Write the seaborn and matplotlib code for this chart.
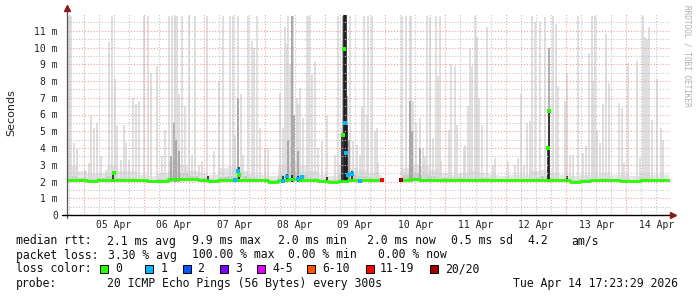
import numpy as np
import pandas as pd
import matplotlib
matplotlib.use("Agg")
import matplotlib.pyplot as plt
from matplotlib.patches import Rectangle
import seaborn as sns

# ---------------- data (hours after 2026-04-04 17:23:29) ----------------
med_hours = [0, 4, 8, 12, 16, 20, 24, 28, 32, 36, 40, 44, 48, 52, 56, 60,
             64, 68, 72, 76, 80, 84, 88, 92, 96, 100, 104, 108, 112, 116, 120, 124, 125.5,
             132.8, 136, 140, 144, 148, 152, 156, 160, 164, 168, 172, 176, 180, 184, 188,
             192, 196, 200, 204, 208, 212, 216, 220, 224, 228, 232, 236, 239.5]
med_ms = [2.08, 2.08, 2.02, 2.06, 2.10, 2.08, 2.08, 2.06, 2.02, 2.03, 2.15, 2.15, 2.12, 2.08, 2.05, 2.08,
          2.10, 2.08, 2.08, 2.06, 2.00, 2.10, 2.12, 2.10, 2.08, 2.03, 1.99, 2.05, 2.08, 2.08, 2.08, 2.08, 2.08,
          2.10, 2.12, 2.08, 2.08, 2.07, 2.07, 2.06, 2.08, 2.07, 2.07, 2.07, 2.07, 2.08, 2.08, 2.10,
          2.09, 2.07, 2.00, 2.05, 2.06, 2.07, 2.07, 2.03, 2.02, 2.06, 2.07, 2.07, 2.07]
haze_ms = [2.9, 2.6, 2.5, 2.5, 2.9, 2.6, 2.6, 2.4, 2.3, 2.5, 3.2, 3.0, 2.6, 2.5, 2.4, 2.8,
           2.9, 2.6, 2.4, 2.4, 2.3, 2.9, 3.2, 2.9, 2.6, 2.4, 2.3, 3.0, 2.8, 2.7, 2.5, 2.4, 2.4,
           2.8, 3.0, 2.9, 2.7, 2.5, 2.4, 2.5, 2.6, 2.5, 2.4, 2.3, 2.4, 2.4, 2.6, 2.7,
           2.5, 2.4, 2.3, 2.4, 2.4, 2.5, 2.4, 2.4, 2.3, 2.5, 2.4, 2.4, 2.4]
core_ms = [2.3, 2.2, 2.15, 2.2, 2.3, 2.2, 2.2, 2.15, 2.1, 2.15, 2.6, 2.5, 2.3, 2.2, 2.15, 2.25,
           2.3, 2.3, 2.2, 2.15, 2.1, 2.4, 2.6, 2.4, 2.2, 2.15, 2.1, 2.4, 2.4, 2.3, 2.2, 2.2, 2.2,
           2.4, 2.5, 2.4, 2.3, 2.2, 2.2, 2.2, 2.2, 2.2, 2.15, 2.15, 2.15, 2.15, 2.2, 2.3,
           2.2, 2.15, 2.1, 2.15, 2.15, 2.2, 2.15, 2.15, 2.1, 2.2, 2.15, 2.15, 2.15]
gap_start = 125.5
gap_end = 132.8

light_hours = [0.0, 0.9, 1.6, 2.7, 4.0, 7.0, 8.6, 9.7, 10.9, 11.9, 13.7, 15.5, 16.8, 17.9, 19.2, 19.9,
               21.6, 22.6, 23.6, 24.6, 26.1, 27.5, 28.8, 30.5, 32.2, 33.6, 35.8, 37.8, 39.1, 40.5,
               41.8, 42.9, 43.8, 44.4, 45.8, 47.1, 48.4, 49.8, 50.8, 52.4, 53.7, 55.7, 58.4, 60.4,
               62.0, 64.9, 66.2, 66.9, 68.2, 69.1, 70.2, 72.2, 73.5, 74.4, 75.5, 76.8, 78.8, 80.1,
               84.8, 86.1, 86.8, 87.4, 88.1, 88.8, 89.4, 90.1, 91.4, 92.1, 92.7, 94.1, 95.6, 96.4,
               97.4, 98.7, 100.0, 101.4, 103.6, 106.7, 108.0, 109.3, 112.6, 113.9, 115.3, 116.6,
               117.3, 118.2, 119.3, 119.9, 121.3, 122.6, 123.3, 123.9,
               133.3, 135.0, 136.4, 137.0, 137.7, 139.0, 140.4, 141.7, 142.4, 143.4, 144.6, 145.7,
               147.0, 147.7, 148.3, 149.0, 151.9, 153.0, 154.3, 155.3, 156.3, 158.0, 158.5, 159.6,
               160.3, 161.3, 162.5, 163.2, 163.9, 165.2, 167.2, 169.5, 170.2, 175.5, 178.2, 179.5,
               180.6, 181.9, 183.2, 184.2, 185.1, 186.3, 188.3, 190.2, 193.6, 194.6, 195.5, 198.2,
               198.9, 200.2, 201.5, 203.5, 205.5, 206.6, 207.9, 208.8, 209.5, 210.1, 210.8, 212.1,
               213.2, 214.5, 215.8, 219.8, 220.8, 221.7, 223.4, 226.7, 228.1, 229.4, 230.0, 231.0,
               231.8, 232.7, 234.7, 236.3, 237.3]
light_tops = [8.0, 11.9, 11.9, 4.3, 4.0, 2.7, 3.1, 6.0, 5.2, 5.5, 3.5, 2.7, 10.3, 11.9, 8.1, 5.3,
              3.3, 5.4, 4.3, 3.3, 7.0, 6.6, 6.8, 11.9, 11.9, 8.5, 8.9, 3.5, 5.1, 11.9,
              11.9, 11.9, 11.9, 7.2, 11.9, 6.5, 11.9, 3.6, 11.9, 3.0, 3.2, 11.9, 3.8, 8.0,
              11.9, 11.9, 11.9, 4.8, 11.9, 7.2, 3.6, 11.9, 10.4, 10.0, 11.9, 5.2, 4.0, 4.0,
              7.3, 5.2, 11.2, 10.2, 11.9, 9.0, 11.9, 11.9, 7.0, 6.6, 7.6, 5.8, 11.9, 11.9,
              8.4, 9.2, 4.0, 4.4, 6.0, 3.6, 11.9, 5.2, 11.9, 4.4, 4.2, 3.6,
              6.5, 11.9, 6.0, 11.9, 11.9, 5.0, 5.2, 3.1,
              11.9, 11.9, 11.9, 11.9, 6.8, 5.5, 5.8, 4.0, 3.5, 11.9, 11.8, 4.6,
              11.9, 8.3, 11.9, 3.2, 5.1, 9.0, 8.9, 5.4, 2.4, 4.0, 4.2, 6.5,
              10.0, 8.9, 11.9, 10.6, 7.0, 5.4, 11.2, 3.0, 3.4, 3.2, 3.0, 3.4,
              7.2, 3.0, 5.5, 5.6, 11.9, 11.5, 11.5, 11.8, 11.9, 11.4, 7.7, 6.8,
              8.5, 3.6, 3.6, 11.9, 3.7, 4.1, 9.7, 11.9, 8.0, 11.9, 5.1, 4.3,
              6.6, 10.8, 7.9, 6.7, 6.4, 3.1, 9.1, 9.2, 3.4, 11.9, 10.6, 10.5,
              11.2, 5.7, 8.1, 5.2, 4.5]

mid_hours = [41.5, 42.5, 43.5, 44.5, 68.2, 88.0, 89.5, 90.2, 92.0, 109.8, 111.6, 112.2,
             136.5, 137.5, 140.4, 191.9]
mid_tops = [3.5, 5.5, 4.5, 3.8, 7.0, 4.5, 11.9, 6.0, 3.8, 11.9, 7.1, 4.5,
            6.8, 5.0, 4.0, 10.0]

dark_hours = [18.5, 56.0, 68.3, 86.0, 87.4, 89.6, 91.8, 93.3, 103.6, 109.6, 110.2, 110.6,
              111.0, 111.3, 113.4, 191.3, 191.8, 199.0]
dark_tops = [2.6, 2.3, 2.85, 2.3, 2.45, 2.4, 2.35, 2.35, 2.25, 4.9, 11.95, 11.95,
             11.95, 5.4, 2.6, 4.0, 6.2, 2.3]

dot_hours = [18.8, 68.5, 110.0, 110.4, 191.3, 191.8,
             66.9, 68.2, 85.8, 87.4, 92.1, 93.4, 110.6, 111.0, 111.7, 113.6, 116.6,
             125.3, 132.9]
dot_ms = [2.5, 2.4, 4.8, 9.9, 4.0, 6.2,
          2.1, 2.65, 2.05, 2.3, 2.15, 2.25, 5.5, 3.7, 2.4, 2.45, 2.05,
          2.08, 2.08]
dot_loss = ["0", "0", "0", "0", "0", "0",
            "1", "1", "1", "1", "1", "1", "1", "1", "1", "1", "1",
            "11-19", "20/20"]

loss_labels = ["0", "1", "2", "3", "4-5", "6-10", "11-19", "20/20"]
loss_colors = ["#26ff00", "#00b8ff", "#0059ff", "#7e00ff", "#dd00ff", "#ff5500", "#ff0000", "#a10000"]

ytick_vals = [0, 1, 2, 3, 4, 5, 6, 7, 8, 9, 10, 11]
ytick_labels = ["0", "1 m", "2 m", "3 m", "4 m", "5 m", "6 m", "7 m", "8 m", "9 m", "10 m", "11 m"]
xtick_labels = ["05 Apr", "06 Apr", "07 Apr", "08 Apr", "09 Apr",
                "10 Apr", "11 Apr", "12 Apr", "13 Apr", "14 Apr"]
first_midnight = 6.608  # hours from start to 05 Apr 00:00

# ---------------- figure ----------------
sns.set_theme(style="white")
plt.rcParams["font.family"] = ["DejaVu Sans Mono", "DejaVu Sans"]

W, H = 697, 297
fig = plt.figure(figsize=(W / 100, H / 100), dpi=100)
fig.patch.set_facecolor("white")
ax = fig.add_axes([67 / W, 82 / H, 603 / W, 201 / H])
ax.set_facecolor("white")
ax.set_xlim(0, 240)
ax.set_ylim(0, 12)

df = pd.DataFrame({"h": med_hours, "med": med_ms, "haze": haze_ms, "core": core_ms})
segs = [df[df.h <= gap_start], df[df.h >= gap_end]]

# smoke haze
for s in segs:
    ax.fill_between(s.h, s.med - 0.06, s.haze, step="post", color="#e6e6e6", lw=0, zorder=1)
    ax.fill_between(s.h, s.med - 0.04, s.core, step="post", color="#c8c8c8", lw=0, zorder=1.1)

# smoke spikes
ax.vlines(light_hours, 2.0, light_tops, color="#d6d6d6", lw=1.1, zorder=1.2)
ax.vlines(mid_hours, 2.0, mid_tops, color="#9a9a9a", lw=1.1, zorder=1.3)
ax.vlines(dark_hours, 2.0, dark_tops, color="#141414", lw=1.1, zorder=1.4)

# grid
red = "#f2a2a2"
gray = "#c4c4c4"
ls = (0, (1, 1.6))
for k in range(10):
    m = first_midnight + 24 * k
    ax.axvline(m, color=red, lw=0.8, ls=ls, zorder=2)
    for q in (6, 12, 18):
        if m + q < 240:
            ax.axvline(m + q, color=gray, lw=0.8, ls=ls, zorder=2)
ax.axvline(first_midnight - 6, color=gray, lw=0.8, ls=ls, zorder=2)
for v in ytick_vals[1:]:
    ax.axhline(v, color=red, lw=0.8, ls=ls, zorder=2)
for v in ytick_vals:
    ax.axhline(v + 0.5, color=gray, lw=0.8, ls=ls, zorder=2)

# median line
for s in segs:
    sns.lineplot(x=s.h.values, y=s.med.values, drawstyle="steps-post", color="#26ff00",
                 lw=2.0, ax=ax, zorder=3, estimator=None, sort=False)

# loss-coloured median dots
pal = dict(zip(loss_labels, loss_colors))
sns.scatterplot(x=dot_hours, y=dot_ms, hue=dot_loss, palette=pal, marker="s", s=8,
                linewidth=0, legend=False, ax=ax, zorder=4)

# axes
for sp in ax.spines.values():
    sp.set_visible(False)
ax.plot([0, 0], [-0.15, 12.3], color="#555555", lw=0.9, clip_on=False, zorder=5)
ax.plot([-2, 240.8], [0, 0], color="#000000", lw=1.0, clip_on=False, zorder=5)
ax.plot([0], [12.35], marker="^", color="#8b1a1a", ms=4.5, clip_on=False, zorder=6)
ax.plot([241.0], [0], marker=">", color="#8b1a1a", ms=4.5, clip_on=False, zorder=6)

ax.set_yticks(ytick_vals)
ax.set_yticklabels(ytick_labels)
ax.set_xticks([first_midnight + 12 + 24 * k for k in range(10)])
ax.set_xticklabels(xtick_labels)
ax.tick_params(axis="y", length=0, pad=6.5, labelsize=7, labelcolor="#222222")
ax.tick_params(axis="x", length=0, pad=3.5, labelsize=7, labelcolor="#222222")
for t in ax.get_yticklabels() + ax.get_xticklabels():
    t.set_family("DejaVu Sans Mono")
ax.set_xlabel("")
ax.set_ylabel("")

# y label and credit
fig.text(11 / W, 1 - 113 / H, "Seconds", rotation=90, ha="center", va="center",
         fontsize=8, family="DejaVu Sans", color="#222222")
fig.text(687 / W, 1 - 5 / H, "RRDTOOL / TOBI OETIKER", rotation=270, ha="center", va="top",
         fontsize=5.6, family="DejaVu Sans Mono", color="#b0b0b0")

# legend text
fs = 8.3


def put(x, y, s):
    fig.text(x / W, 1 - y / H, s, ha="left", va="center", fontsize=fs,
             family="DejaVu Sans Mono", color="#111111")


put(16, 241, "median rtt:")
put(107, 241, "2.1 ms avg")
put(192, 241, "9.9 ms max")
put(278, 241, "2.0 ms min")
put(367, 241, "2.0 ms now")
put(451, 241, "0.5 ms sd")
put(527, 241, "4.2")
put(571, 241, "am/s")

put(16, 255, "packet loss:")
put(108, 255, "3.30 % avg")
put(192, 255, "100.00 % max")
put(288, 255, "0.00 % min")
put(378, 255, "0.00 % now")

put(16, 269, "loss color:")
sq_x = [100, 145, 183, 220, 257, 307, 366, 430]
lab_x = [115, 161, 197, 235, 272, 322, 380, 445]
for xs, xl, lab, col in zip(sq_x, lab_x, loss_labels, loss_colors):
    fig.patches.append(Rectangle((xs / W, 1 - 273 / H), 8 / W, 8 / H, transform=fig.transFigure,
                                 facecolor=col, edgecolor="black", lw=0.7))
    put(xl, 269, lab)

put(16, 284, "probe:")
put(107, 284, "20 ICMP Echo Pings (56 Bytes) every 300s")
put(513, 284, "Tue Apr 14 17:23:29 2026")

fig.savefig("out.png", dpi=100, facecolor="white")
